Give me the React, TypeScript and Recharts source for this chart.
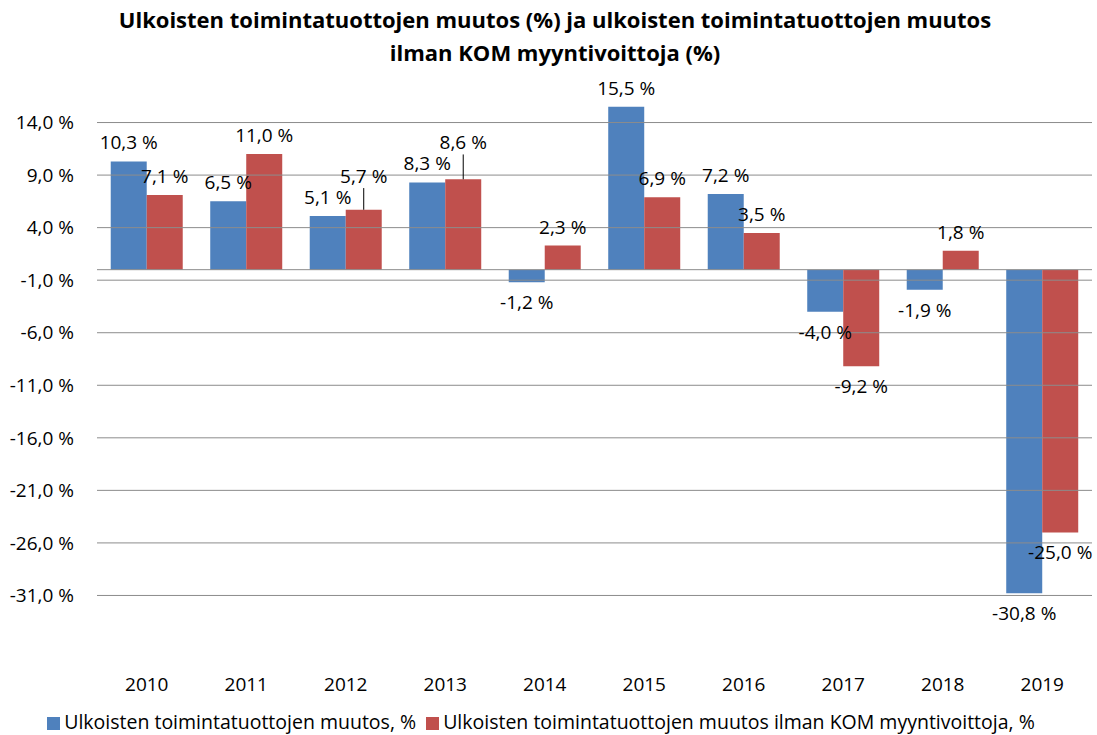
import { BarChart, Bar, XAxis, YAxis, Legend, ReferenceLine, LabelList } from 'recharts';

const years = ['2010', '2011', '2012', '2013', '2014', '2015', '2016', '2017', '2018', '2019'];
const muutos = [10.3, 6.5, 5.1, 8.3, -1.2, 15.5, 7.2, -4.0, -1.9, -30.8];
const ilmanKom = [7.1, 11.0, 5.7, 8.6, 2.3, 6.9, 3.5, -9.2, 1.8, -25.0];
const yTicks = [14, 9, 4, -1, -6, -11, -16, -21, -26, -31];

const data = years.map((year, i) => ({ year, muutos: muutos[i], ilmanKom: ilmanKom[i] }));

const FONT = '"Open Sans", sans-serif';
const FS = 19;
const fmt = (v: number) => v.toFixed(1).replace('.', ',') + ' %';

const makeLabel = (series: 'muutos' | 'ilmanKom') => (props: any) => {
    const { x, y, width, height, value, index } = props;
    const cx = x + width / 2;
    const neg = value < 0;
    const top = Math.min(y, y + height);
    const bottom = Math.max(y, y + height);
    let ty = neg ? bottom + 20 : top - 19;
    let leader = false;
    // red label sits next to a blue bar of similar height: lift it and draw a leader line
    if (series === 'ilmanKom' && !neg && value !== 0) {
        const scale = Math.abs(height / value);
        const zeroY = top + Math.abs(height);
        const other = muutos[index];
        if (other > 0) {
            const otherTop = zeroY - other * scale;
            if (Math.abs(otherTop - top) < 20) {
                ty = otherTop - 19 - 21;
                leader = true;
            }
        }
    }
    return (
        <g>
            {leader && <line x1={cx} x2={cx} y1={top} y2={ty + 12} stroke="#000" strokeWidth={1} />}
            <text x={cx} y={ty} textAnchor="middle" dominantBaseline="central" fontSize={FS} fontFamily={FONT} fill="#000">
                {fmt(value)}
            </text>
        </g>
    );
};

export default function App() {
    return (
        <div style={{ position: 'absolute', left: 0, top: 0, width: 1097, height: 735, background: '#fff' }}>
            <div
                style={{
                    position: 'absolute', left: 0, top: 3, width: 1110, textAlign: 'center',
                    fontFamily: FONT, fontWeight: 700, fontSize: 22, lineHeight: '33px', color: '#000', zIndex: 2,
                }}
            >
                Ulkoisten toimintatuottojen muutos (%) ja ulkoisten toimintatuottojen muutos
                <br />
                ilman KOM myyntivoittoja (%)
            </div>
            <BarChart
                width={1097}
                height={735}
                data={data}
                margin={{ top: 70, right: 5, left: 0, bottom: 0 }}
                barCategoryGap="13.8%"
                barGap={0}
            >
                {yTicks.map((t) => (
                    <ReferenceLine key={t} y={t} stroke="#8c8c8c" strokeWidth={1} />
                ))}
                <ReferenceLine y={0} stroke="#8c8c8c" strokeWidth={1} />
                <XAxis
                    dataKey="year"
                    axisLine={false}
                    tickLine={false}
                    tickMargin={24}
                    height={60}
                    tick={{ fontSize: FS, fontFamily: FONT, fill: '#000' }}
                    interval={0}
                />
                <YAxis
                    domain={[-36, 19]}
                    ticks={yTicks}
                    width={97}
                    axisLine={false}
                    tickLine={false}
                    tickMargin={17}
                    tickFormatter={fmt}
                    tick={{ fontSize: FS, fontFamily: FONT, fill: '#000' }}
                    allowDataOverflow
                />
                <Legend
                    verticalAlign="bottom"
                    align="center"
                    iconType="square"
                    iconSize={13}
                    itemSorter={(item: any) => (item.dataKey === 'muutos' ? 0 : 1)}
                    wrapperStyle={{ fontFamily: FONT, fontSize: 19.5, color: '#000' }}
                    formatter={(value: string) => <span style={{ color: '#000' }}>{value}</span>}
                />
                <Bar dataKey="muutos" name="Ulkoisten toimintatuottojen muutos, %" fill="#4F81BD" isAnimationActive={false}>
                    <LabelList dataKey="muutos" content={makeLabel('muutos')} />
                </Bar>
                <Bar dataKey="ilmanKom" name="Ulkoisten toimintatuottojen muutos ilman KOM myyntivoittoja, %" fill="#C0504D" isAnimationActive={false}>
                    <LabelList dataKey="ilmanKom" content={makeLabel('ilmanKom')} />
                </Bar>
            </BarChart>
        </div>
    );
}
